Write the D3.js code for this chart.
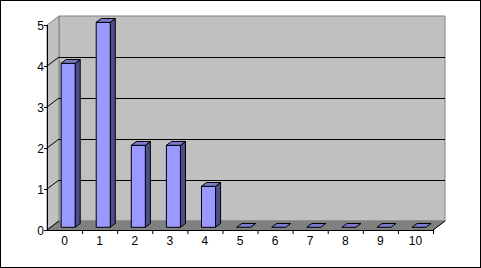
<!DOCTYPE html>
<html>
<head>
<meta charset="utf-8">
<script src="https://cdn.jsdelivr.net/npm/d3@7"></script>
<style>
  html, body { margin: 0; padding: 0; background: #fff; }
  svg { display: block; }
  text { font-family: Arial, "Liberation Sans", sans-serif; font-size: 12px; fill: #000; }
</style>
</head>
<body>
<svg id="chart"></svg>
<script>
// chart data
const categories = ['0', '1', '2', '3', '4', '5', '6', '7', '8', '9', '10'] ;
const counts = [4, 5, 2, 2, 1, 0, 0, 0, 0, 0, 0] ;
const yTicks = [0, 1, 2, 3, 4, 5] ;

const geom = {
	width: 481,
	height: 268,
	left: 47, right: 433,
	bottom: 230, top: 25,
	depthX: 12, depthY: 9
} ;

const x = d3.scaleBand()
	.domain( categories )
	.range( [ geom.left, geom.right ] )
	.padding( 0 ) ;

const y = d3.scaleLinear()
	.domain( [ 0, 5 ] )
	.range( [ geom.bottom, geom.top ] ) ;

// project a front-plane point back by depth fraction d (0 = front, 1 = back wall)
const proj = ( px, py, d ) => [ px + geom.depthX * d, py - geom.depthY * d ] ;
const poly = pts => pts.map( p => p.join( ',' ) ).join( ' ' ) ;

const svg = d3.select( '#chart' )
	.attr( 'width', geom.width )
	.attr( 'height', geom.height ) ;

svg.append( 'rect' )
	.attr( 'x', 0.5 ).attr( 'y', 0.5 )
	.attr( 'width', geom.width - 1 ).attr( 'height', geom.height - 1 )
	.attr( 'fill', '#fff' )
	.attr( 'stroke', '#000' ) ;

const x0 = geom.left, x1 = geom.right, y0 = y(0), y5 = y(5) ;

// back wall
svg.append( 'polygon' )
	.attr( 'points', poly( [ proj(x0, y5, 1), proj(x1, y5, 1), proj(x1, y0, 1), proj(x0, y0, 1) ] ) )
	.attr( 'fill', '#c0c0c0' )
	.attr( 'stroke', '#808080' ) ;

// left side wall
svg.append( 'polygon' )
	.attr( 'points', poly( [ [x0, y5], proj(x0, y5, 1), proj(x0, y0, 1), [x0, y0] ] ) )
	.attr( 'fill', '#c0c0c0' )
	.attr( 'stroke', '#808080' ) ;

// floor
svg.append( 'polygon' )
	.attr( 'points', poly( [ [x0, y0], [x1, y0], proj(x1, y0, 1), proj(x0, y0, 1) ] ) )
	.attr( 'fill', '#808080' )
	.attr( 'stroke', '#808080' ) ;

// gridlines on back wall
svg.selectAll( 'line.horizontal' )
	.data( yTicks.filter( v => v > 0 && v < 5 ) )
	.enter()
	.append( 'line' )
	.attr( 'class', 'horizontal' )
	.attr( 'x1', proj(x0, 0, 1)[0] )
	.attr( 'x2', proj(x1, 0, 1)[0] )
	.attr( 'y1', d => proj(0, y(d), 1)[1] + 0.5 )
	.attr( 'y2', d => proj(0, y(d), 1)[1] + 0.5 )
	.attr( 'stroke', '#000' ) ;

// gridlines on side wall
svg.selectAll( 'line.diagonal' )
	.data( yTicks.filter( v => v < 5 ) )
	.enter()
	.append( 'line' )
	.attr( 'class', 'diagonal' )
	.attr( 'x1', x0 )
	.attr( 'y1', d => y(d) )
	.attr( 'x2', proj(x0, 0, 1)[0] )
	.attr( 'y2', d => proj(0, y(d), 1)[1] )
	.attr( 'stroke', '#000' ) ;

// floor right edge
svg.append( 'line' )
	.attr( 'x1', x1 ).attr( 'y1', y0 )
	.attr( 'x2', proj(x1, y0, 1)[0] ).attr( 'y2', proj(x1, y0, 1)[1] )
	.attr( 'stroke', '#000' ) ;

// bars
const barW = x.bandwidth() * 0.4 ;
const dFront = 0.3, dBack = 0.72 ;
const bars = svg.selectAll( 'g.bar' )
	.data( categories.map( (c, i) => ({ cat: c, value: counts[i] }) ) )
	.enter()
	.append( 'g' )
	.attr( 'class', 'bar' ) ;

bars.each( function( d ) {
	const g = d3.select( this ) ;
	const bl = x(d.cat) + (x.bandwidth() - barW) / 2 ;
	const br = bl + barW ;
	const yt = y(d.value), yb = y(0) ;
	if( d.value > 0 ) {
		// side face
		g.append( 'polygon' )
			.attr( 'points', poly( [ proj(br, yt, dFront), proj(br, yt, dBack), proj(br, yb, dBack), proj(br, yb, dFront) ] ) )
			.attr( 'fill', '#4d4d8f' )
			.attr( 'stroke', '#000' ) ;
		// front face
		g.append( 'polygon' )
			.attr( 'points', poly( [ proj(bl, yt, dFront), proj(br, yt, dFront), proj(br, yb, dFront), proj(bl, yb, dFront) ] ) )
			.attr( 'fill', '#9999ff' )
			.attr( 'stroke', '#000' ) ;
	}
	// top face
	g.append( 'polygon' )
		.attr( 'points', poly( [ proj(bl, yt, dFront), proj(br, yt, dFront), proj(br, yt, dBack), proj(bl, yt, dBack) ] ) )
		.attr( 'fill', '#7a7acc' )
		.attr( 'stroke', '#000' ) ;
} ) ;

// axes
svg.append( 'line' )
	.attr( 'x1', x0 + 0.5 ).attr( 'x2', x0 + 0.5 )
	.attr( 'y1', y5 ).attr( 'y2', y0 )
	.attr( 'stroke', '#000' ) ;

svg.append( 'line' )
	.attr( 'x1', x0 ).attr( 'x2', x1 )
	.attr( 'y1', y0 + 0.5 ).attr( 'y2', y0 + 0.5 )
	.attr( 'stroke', '#000' ) ;

svg.selectAll( 'line.xtick' )
	.data( categories.slice( 1 ).concat( [ null ] ) )
	.enter()
	.append( 'line' )
	.attr( 'class', 'xtick' )
	.attr( 'x1', d => ( d === null ? x1 : x(d) ) + 0.5 )
	.attr( 'x2', d => ( d === null ? x1 : x(d) ) + 0.5 )
	.attr( 'y1', y0 )
	.attr( 'y2', y0 + 4 )
	.attr( 'stroke', '#000' ) ;

svg.selectAll( 'line.ytick' )
	.data( yTicks )
	.enter()
	.append( 'line' )
	.attr( 'class', 'ytick' )
	.attr( 'x1', x0 - 3 )
	.attr( 'x2', x0 )
	.attr( 'y1', d => y(d) + 0.5 )
	.attr( 'y2', d => y(d) + 0.5 )
	.attr( 'stroke', '#000' ) ;

svg.selectAll( 'text.ylabel' )
	.data( yTicks )
	.enter()
	.append( 'text' )
	.attr( 'class', 'ylabel' )
	.attr( 'x', x0 - 3 )
	.attr( 'y', d => y(d) + 4.5 )
	.attr( 'text-anchor', 'end' )
	.text( d => d ) ;

svg.selectAll( 'text.xlabel' )
	.data( categories )
	.enter()
	.append( 'text' )
	.attr( 'class', 'xlabel' )
	.attr( 'x', d => x(d) + x.bandwidth() / 2 )
	.attr( 'y', y0 + 15 )
	.attr( 'text-anchor', 'middle' )
	.text( d => d ) ;
</script>
</body>
</html>
